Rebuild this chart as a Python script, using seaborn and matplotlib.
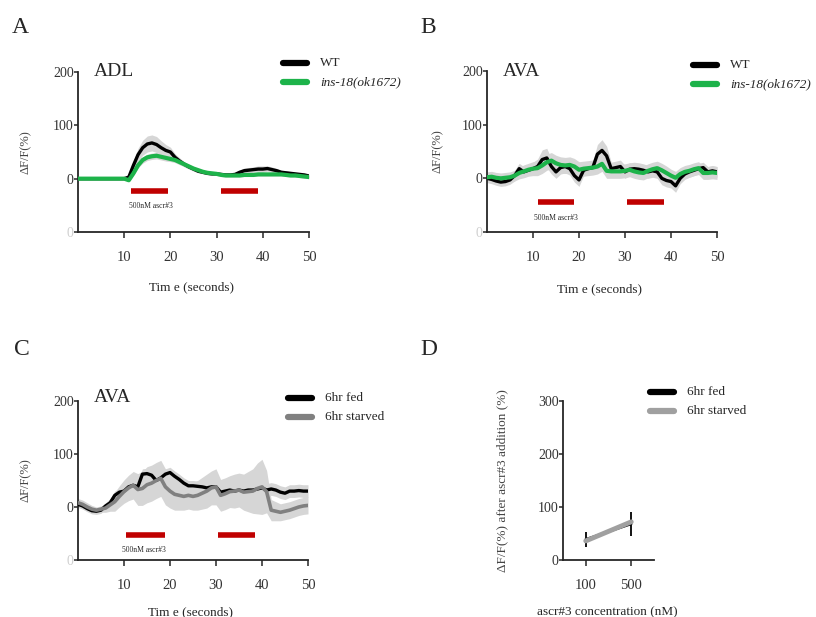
import numpy as np
import matplotlib
matplotlib.use('Agg')
import matplotlib.pyplot as plt
import seaborn as sns
from matplotlib.lines import Line2D

#--------------------------------------------------
# data (1 s steps, 0..50 s)
time_s = np.arange(0, 51)

adl_wt = [0, 0, 0, 0, 0, 0, 0, 0, 0, 0, 0, 3, 25, 45, 58, 65, 67, 64, 58, 53,
          50, 40, 33, 27, 22, 18, 14, 12, 10, 9, 9, 8, 7, 7, 8, 12, 15, 16, 17, 18,
          18, 19, 17, 15, 12, 11, 10, 9, 8, 7, 5]
adl_wt_sem = [2, 2, 2, 2, 2, 2, 2, 2, 2, 2, 2, 3, 8, 12, 14, 15, 15, 15, 13, 11,
              9, 7, 6, 5, 4, 4, 3, 3, 3, 3, 3, 3, 3, 3, 3, 4, 5, 5, 5, 6,
              6, 5, 5, 4, 4, 4, 3, 3, 3, 3, 3]
adl_ins = [0, 0, 0, 0, 0, 0, 0, 0, 0, 0, 0, -3, 10, 25, 35, 40, 42, 43, 41, 39,
           37, 35, 31, 27, 23, 19, 16, 13, 11, 10, 9, 7, 6, 6, 6, 6, 7, 7, 7, 8,
           8, 8, 8, 8, 8, 7, 6, 6, 5, 4, 3]
adl_ins_sem = [2, 2, 2, 2, 2, 2, 2, 2, 2, 2, 2, 2, 4, 5, 6, 6, 6, 6, 6, 6,
               5, 5, 5, 4, 4, 4, 3, 3, 3, 3, 3, 3, 3, 3, 3, 3, 3, 3, 3, 3,
               3, 3, 3, 3, 3, 3, 3, 3, 3, 3, 3]

ava_wt = [0, -2, -5, -7, -6, -3, 5, 18, 12, 15, 18, 22, 35, 38, 22, 12, 20, 22, 18, 5,
          -3, 15, 18, 20, 45, 52, 42, 18, 20, 22, 12, 17, 18, 17, 15, 12, 14, 12, 0, -4,
          -6, -14, 0, 8, 12, 15, 18, 20, 12, 14, 12]
ava_wt_sem = [8, 8, 8, 8, 8, 8, 10, 10, 10, 10, 12, 14, 18, 18, 14, 12, 12, 12, 12, 12,
              12, 10, 10, 12, 18, 20, 18, 12, 12, 12, 12, 12, 12, 12, 12, 12, 12, 12, 12, 12,
              12, 12, 10, 10, 10, 10, 10, 10, 10, 10, 10]
ava_ins = [2, 3, 1, 0, 1, 2, 5, 10, 13, 16, 18, 19, 24, 30, 33, 28, 25, 24, 25, 22,
           16, 18, 19, 20, 22, 27, 14, 13, 13, 13, 14, 16, 13, 11, 10, 14, 17, 19, 15, 10,
           5, 1, 8, 12, 14, 17, 19, 10, 10, 11, 10]
ava_ins_sem = [10, 10, 10, 10, 10, 10, 10, 11, 12, 12, 13, 14, 15, 15, 15, 15, 15, 15, 15, 15,
               15, 14, 14, 14, 14, 14, 14, 13, 13, 13, 13, 13, 13, 13, 13, 13, 13, 13, 13, 13,
               12, 12, 12, 12, 12, 12, 12, 12, 12, 12, 12]

fed = [5, 2, -3, -7, -8, -6, 2, 8, 22, 28, 30, 38, 41, 38, 62, 63, 60, 50, 55, 62,
       65, 58, 52, 45, 40, 40, 39, 38, 36, 38, 38, 28, 30, 32, 30, 32, 30, 32, 32, 34,
       36, 32, 34, 32, 28, 26, 30, 30, 31, 30, 30]
fed_sem = [6, 6, 6, 6, 6, 6, 6, 8, 8, 8, 8, 10, 10, 10, 10, 10, 10, 10, 10, 10,
           10, 10, 10, 10, 10, 10, 10, 10, 10, 10, 10, 10, 10, 10, 10, 10, 10, 10, 10, 10,
           10, 12, 12, 12, 12, 12, 12, 12, 12, 12, 12]
starved = [8, 5, 0, -4, -6, -4, -2, 4, 10, 20, 29, 36, 41, 33, 35, 42, 45, 50, 54, 38,
           30, 24, 22, 20, 22, 20, 22, 26, 30, 36, 38, 22, 25, 29, 30, 32, 28, 29, 30, 35,
           38, 29, -6, -8, -10, -8, -6, -3, 0, 2, 3]
starved_sem = [8, 8, 8, 7, 6, 6, 8, 12, 18, 20, 22, 24, 26, 30, 32, 34, 34, 34, 34, 34,
               32, 30, 28, 26, 26, 26, 28, 30, 32, 32, 34, 30, 30, 30, 32, 32, 34, 38, 42, 48,
               52, 40, 20, 18, 16, 16, 16, 16, 16, 16, 16]

# ascr#3 pulses
stim_on = [11.5, 31]
stim_off = [19.5, 39]

# panel D
conc_labels = ['100', '500']
fed_peak = [39, 68]
fed_peak_sem = [14, 22]
starved_peak = [36, 72]
starved_peak_sem = [4, 5]

BAND = '#d6d6d6'
GREEN = '#1db34a'
RED = '#c00000'
SERIF = ['Liberation Serif', 'DejaVu Serif']
W, H = 816, 617


#--------------------------------------------------
def ax_at(fig, left, top, right, bottom):
    return fig.add_axes([left / W, 1 - bottom / H, (right - left) / W, (bottom - top) / H])


#--------------------------------------------------
def style_axis(ax, yticks, ylabels):
    sns.despine(ax=ax)
    for s in ['left', 'bottom']:
        ax.spines[s].set_linewidth(1.3)
    ax.set_yticks(yticks)
    ax.set_yticklabels(ylabels)
    ax.tick_params(axis='y', length=3, width=1.1, pad=0, labelsize=10, labelcolor='#333333')
    ax.tick_params(axis='x', length=4, width=1.1, pad=10, labelsize=10.5, labelcolor='#333333')


#--------------------------------------------------
def trace_panel(ax, series, title, bars_y, text_x, text_y, stim):
    for mean, sem, color, lw in series:
        m = np.array(mean, dtype=float)
        s = np.array(sem, dtype=float)
        ax.fill_between(time_s, m - s, m + s, color=BAND, lw=0, zorder=1)
    for mean, sem, color, lw in series:
        sns.lineplot(x=time_s, y=mean, ax=ax, color=color, lw=lw, zorder=3)
    for a, b in zip(stim[0], stim[1]):
        ax.plot([a, b], [bars_y, bars_y], color=RED, lw=4, solid_capstyle='butt', zorder=4)
    ax.text(text_x, text_y, '500nM ascr#3', fontsize=5.5, ha='center', va='center')
    ax.set_xlim(0, 50)
    ax.set_ylim(-100, 200)
    ax.set_xticks([10, 20, 30, 40, 50])
    style_axis(ax, [-100, 0, 100, 200], ['0', '0', '100', '200'])
    ax.get_yticklabels()[0].set_color('#cfcfcf')
    ax.set_xlabel('Tim e (seconds)', fontsize=9.5)
    ax.set_ylabel('\u0394F/F(%)', fontsize=9, color='#444444')
    ax.text(0.07, 1.0, title, transform=ax.transAxes, fontsize=14, ha='left', va='center')


#--------------------------------------------------
def add_legend(fig, labels, colors, x, y, italic_second=False):
    for i, (lab, col) in enumerate(zip(labels, colors)):
        yy = y + 19 * i
        fig.add_artist(Line2D([x / W, (x + 24) / W], [1 - yy / H, 1 - yy / H],
                              color=col, lw=4.5, transform=fig.transFigure))
        fig.text((x + 37) / W, 1 - yy / H, lab, fontsize=9.5, va='center',
                 style='italic' if (italic_second and i == 1) else 'normal')


#--------------------------------------------------
def main():
    sns.set_theme(style='ticks')
    plt.rcParams['font.family'] = SERIF

    fig = plt.figure(figsize=(W / 100, H / 100), dpi=100)

    # A
    axA = ax_at(fig, 78, 72, 309, 232)
    trace_panel(axA, [(adl_wt, adl_wt_sem, 'black', 2.4), (adl_ins, adl_ins_sem, GREEN, 3.0)],
                'ADL', -24, 15.8, -52, (stim_on, stim_off))
    axA.yaxis.set_label_coords(-0.2, 0.5)
    axA.xaxis.set_label_coords(0.49, -0.31)
    add_legend(fig, ['WT', 'ins-18(ok1672)'], ['black', GREEN], 283, 63, italic_second=True)

    # B
    axB = ax_at(fig, 487, 71, 717, 232)
    trace_panel(axB, [(ava_wt, ava_wt_sem, 'black', 2.4), (ava_ins, ava_ins_sem, GREEN, 3.0)],
                'AVA', -45, 15, -73, ([s - 0.5 for s in stim_on], [s - 0.5 for s in stim_off]))
    axB.yaxis.set_label_coords(-0.19, 0.5)
    axB.xaxis.set_label_coords(0.49, -0.32)
    add_legend(fig, ['WT', 'ins-18(ok1672)'], ['black', GREEN], 693, 65, italic_second=True)

    # C
    axC = ax_at(fig, 78, 401, 308, 560)
    trace_panel(axC, [(fed, fed_sem, 'black', 2.4), (starved, starved_sem, '#808080', 2.6)],
                'AVA', -53, 14.3, -81, ([stim_on[0] - 1, stim_on[1] - 0.5], [stim_off[0] - 0.5, stim_off[1] - 0.5]))
    axC.texts[-1].set_position((0.07, 1.025))
    axC.yaxis.set_label_coords(-0.2, 0.5)
    axC.xaxis.set_label_coords(0.49, -0.29)
    add_legend(fig, ['6hr fed', '6hr starved'], ['black', '#808080'], 288, 398)

    # D
    axD = ax_at(fig, 563, 401, 654, 560)
    xpos = np.arange(len(conc_labels))
    axD.errorbar(xpos, fed_peak, yerr=fed_peak_sem, fmt='none', ecolor='black', elinewidth=1.3, zorder=2)
    sns.lineplot(x=xpos, y=fed_peak, ax=axD, color='black', lw=1.8, zorder=3)
    sns.lineplot(x=xpos, y=starved_peak, ax=axD, color='#a0a0a0', lw=3.5, zorder=4)
    axD.set_xlim(-0.5, 1.5)
    axD.set_ylim(0, 300)
    axD.set_xticks(xpos)
    axD.set_xticklabels(conc_labels)
    style_axis(axD, [0, 100, 200, 300], ['0', '100', '200', '300'])
    axD.set_xlabel('ascr#3 concentration (nM)', fontsize=9.5)
    axD.set_ylabel('\u0394F/F(%) after ascr#3 addition (%)', fontsize=9.5, color='#444444')
    axD.yaxis.set_label_coords(-0.6, 0.5)
    axD.xaxis.set_label_coords(0.49, -0.29)
    add_legend(fig, ['6hr fed', '6hr starved'], ['black', '#a0a0a0'], 650, 392)

    # panel letters
    for lab, x, y in [('A', 12, 33), ('B', 420, 33), ('C', 14, 355), ('D', 420, 355)]:
        fig.text(x / W, 1 - y / H, lab, fontsize=17, va='baseline')

    fig.savefig('out.png', dpi=100)


#--------------------------------------------------
if __name__ == '__main__':
    main()
